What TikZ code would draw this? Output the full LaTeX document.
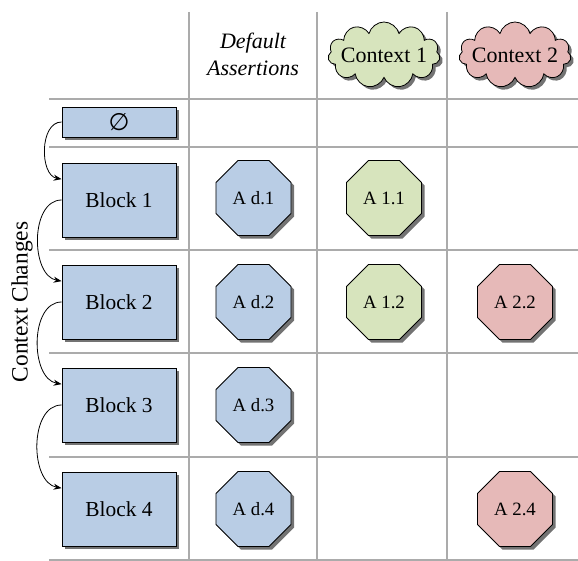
\documentclass[tikz,border=0pt]{standalone}
\usepackage{fontspec}
\setmainfont{Liberation Serif}
\newfontfamily\symfont{DejaVu Sans}
\usetikzlibrary{shapes.geometric,shapes.symbols,shadows,arrows.meta}
\definecolor{blockblue}{HTML}{B9CDE5}
\definecolor{ctxgreen}{HTML}{D7E4BD}
\definecolor{ctxred}{HTML}{E6B9B8}
\tikzset{
  shadowed/.style={drop shadow={shadow xshift=1.5pt,shadow yshift=-1.5pt,fill=black!55,opacity=1}},
  blockbox/.style={draw, fill=blockblue, shadowed, minimum width=57pt, minimum height=37pt,
    inner sep=0pt, font=\fontsize{10.7}{12}\selectfont},
  assertion/.style={regular polygon, regular polygon sides=8, draw, shadowed,
    minimum size=40.6pt, inner sep=0pt, font=\fontsize{9.4}{11}\selectfont},
  ctxcloud/.style={cloud, cloud puffs=11, cloud ignores aspect, draw, shadowed, minimum width=56pt,
    minimum height=33pt, inner sep=0pt, font=\fontsize{11}{13}\selectfont},
  gridline/.style={draw=black!33, line width=0.75pt},
  change/.style={-{Stealth[length=4pt,width=3pt]}, thin}
}
\begin{document}
\begin{tikzpicture}[x=0.5pt,y=0.5pt]
  \useasboundingbox (0,0) rectangle (578,-561);
  % table lines
  \foreach \x in {189,317,447}
    \draw[gridline] (\x,-12) -- (\x,-560);
  \foreach \y in {99,147,250,353,457,560}
    \draw[gridline] (49,-\y) -- (578,-\y);
  % column heads
  \node[align=center, font=\itshape\fontsize{11}{13.5}\selectfont] (hdefault) at (253,-54) {Default\\Assertions};
  \node[ctxcloud, fill=ctxgreen] (ctx1) at (384,-55) {\makebox[0pt]{Context 1}};
  \node[ctxcloud, fill=ctxred] (ctx2) at (515,-55) {\makebox[0pt]{Context 2}};
  % blocks
  \node[blockbox, minimum height=15pt] (b0) at (119,-122) {{\symfont\fontsize{12}{14}\selectfont ∅}};
  \foreach \n/\y in {1/200,2/302,3/405,4/509}
    \node[blockbox] (b\n) at (119,-\y) {Block \n};
  % assertions
  \foreach \n/\y in {1/198,2/302,3/405,4/509}
    \node[assertion, fill=blockblue] (ad\n) at (253.5,-\y) {A d.\n};
  \node[assertion, fill=ctxgreen] (a11) at (384,-198) {A 1.1};
  \node[assertion, fill=ctxgreen] (a12) at (384,-302) {A 1.2};
  \node[assertion, fill=ctxred] (a22) at (515,-302) {A 2.2};
  \node[assertion, fill=ctxred] (a24) at (515,-509) {A 2.4};
  % side label
  \node[rotate=90, font=\fontsize{11.7}{14}\selectfont] (changes) at (22,-302) {Context Changes};
  % context changes between blocks
  \foreach \a/\b in {b0/b1,b1/b2,b2/b3,b3/b4}
    \draw[change] (\a.west) to[out=180,in=170] (\b.160);
\end{tikzpicture}
\end{document}
